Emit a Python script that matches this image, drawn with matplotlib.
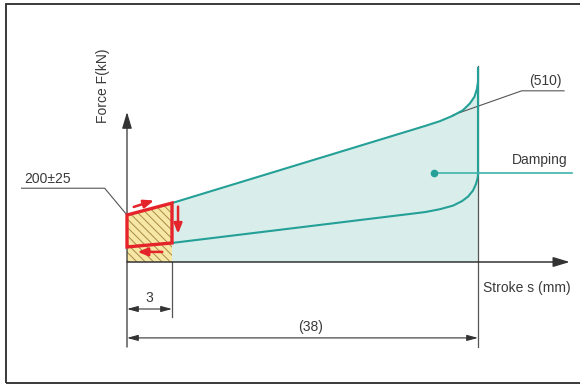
import numpy as np
import matplotlib
matplotlib.use("Agg")
import matplotlib.pyplot as plt
from matplotlib.patches import Rectangle

# ---------------- data (stroke s in mm, force F in kN) ----------------
stroke_marks = [0, 3, 38]            # characteristic strokes
force_marks = [0, 200, 510]          # characteristic forces
preload_label = "200±25"
end_force_label = "(510)"
dim_short_label = "3"
dim_total_label = "(38)"
damping_label = "Damping"
x_label = "Stroke s (mm)"
y_label = "Force F(kN)"

# loading curve (upper) and unloading curve (lower)
upper_s = [3, 31.94, 33.65, 35.14, 36.28, 37.08, 37.60, 37.88, 38.0, 38.0]
upper_F = [237, 476, 491, 508, 525, 546, 567, 591, 612, 656]
lower_s = [3, 31.94, 33.65, 35.14, 36.17, 36.86, 37.43, 37.77, 37.94, 38.0]
lower_F = [81, 209, 218, 229, 243, 257, 276, 296, 313, 324]

# preload (initial stiffness) hysteresis box
box_s = [0, 3, 3, 0]
box_F = [200, 237, 81, 64]

# ---------------- schematic (non-proportional) drawing scale ----------------
x_draw = [0, 45, 351]     # drawing distance for stroke_marks
y_draw = [0, 47, 147]     # drawing distance for force_marks


def piecewise(xk, yk):
    xk = np.asarray(xk, float)
    yk = np.asarray(yk, float)
    s_lo = (yk[1] - yk[0]) / (xk[1] - xk[0])
    s_hi = (yk[-1] - yk[-2]) / (xk[-1] - xk[-2])

    def f(v):
        v = np.asarray(v, float)
        out = np.interp(v, xk, yk)
        out = np.where(v < xk[0], yk[0] + (v - xk[0]) * s_lo, out)
        out = np.where(v > xk[-1], yk[-1] + (v - xk[-1]) * s_hi, out)
        return out
    return f


fx, fx_inv = piecewise(stroke_marks, x_draw), piecewise(x_draw, stroke_marks)
fy, fy_inv = piecewise(force_marks, y_draw), piecewise(y_draw, force_marks)

plt.rcParams["font.family"] = ["Liberation Sans", "DejaVu Sans"]
plt.rcParams["hatch.linewidth"] = 0.7

TEAL = "#24a097"
TEAL_LIGHT = "#3db3aa"
FILL = "#d9eeeb"
RED = "#e5232b"
DARK = "#333333"
GRAY = "#555555"
TXT = "#3a3a3a"

fig = plt.figure(figsize=(5.8, 3.84), dpi=100)
ax = fig.add_axes([0, 0, 1, 1])
ax.set_xscale("function", functions=(fx, fx_inv))
ax.set_yscale("function", functions=(fy, fy_inv))
ax.set_xlim(float(fx_inv(-127)), float(fx_inv(453)))
ax.set_ylim(float(fy_inv(-122)), float(fy_inv(262)))
ax.set_axis_off()

# frame
fig.patches.append(Rectangle((6 / 580, 1.5 / 384), 1.0, 378.5 / 384,
                             transform=fig.transFigure, fill=False,
                             edgecolor="#2a2a2a", lw=1.3))

s0, s3, s38 = stroke_marks
F0, Fpre, Fend = force_marks

# damping area
ax.fill(np.r_[s3, upper_s, s38], np.r_[F0, upper_F, F0],
        facecolor=FILL, edgecolor="none", zorder=1)

# hatched preload zone
ax.fill([s0, box_s[0], box_s[1], s3], [F0, box_F[0], box_F[1], F0],
        facecolor="#f6e7a6", edgecolor="#a88a45", hatch="\\\\\\\\",
        lw=0, zorder=1.5)

# extension / axis lines
ax.plot([s38, s38], [-362, 662], color=GRAY, lw=0.9, zorder=2)
ax.plot([s3, s3], [F0, -234], color=GRAY, lw=0.9, zorder=2)
ax.annotate("", xy=(s0, 519), xytext=(s0, -362),
            arrowprops=dict(arrowstyle="-|>,head_length=1.0,head_width=0.3",
                            mutation_scale=10, color=DARK, lw=0.9,
                            shrinkA=0, shrinkB=0), zorder=2.5)
ax.annotate("", xy=(48.5, F0), xytext=(s0, F0),
            arrowprops=dict(arrowstyle="-|>,head_length=1.0,head_width=0.3",
                            mutation_scale=10, color=DARK, lw=1.1,
                            shrinkA=0, shrinkB=0), zorder=2.5)

# curves outline
ax.plot(np.r_[upper_s, lower_s[::-1]], np.r_[upper_F, lower_F[::-1]],
        color=TEAL, lw=1.5, zorder=3, solid_joinstyle="round")

# red preload box
ax.fill(box_s, box_F, facecolor="none", edgecolor=RED, lw=2.4,
        joinstyle="miter", zorder=4)
red_arrow = dict(arrowstyle="-|>,head_length=1.0,head_width=0.4",
                 mutation_scale=6, color=RED, lw=1.8, shrinkA=0, shrinkB=0)
ax.annotate("", xy=(1.8, 245), xytext=(0.45, 225), arrowprops=red_arrow, zorder=5)
ax.annotate("", xy=(3.69, 120), xytext=(3.69, 226), arrowprops=red_arrow, zorder=5)
ax.annotate("", xy=(0.7, 43), xytext=(2.35, 43), arrowprops=red_arrow, zorder=5)

# dimension lines
dim_arrow = dict(arrowstyle="<|-|>,head_length=1.1,head_width=0.3",
                 mutation_scale=6, color=DARK, lw=0.8, shrinkA=0, shrinkB=0)
ax.annotate("", xy=(s0, -200), xytext=(s3, -200), arrowprops=dim_arrow)
ax.annotate("", xy=(s0, -323), xytext=(s38, -323), arrowprops=dim_arrow)
ax.text((s0 + s3) / 2, -153, dim_short_label, ha="center", va="center",
        fontsize=10, color=TXT)
ax.text(18.8, -277, dim_total_label, ha="center", va="center",
        fontsize=10, color=TXT)

# leaders and labels
ax.plot([s0, -1.49, -7.03], [Fpre, 283, 283], color=GRAY, lw=0.8, zorder=2)
ax.text(-6.87, 290, preload_label, ha="left", va="bottom", fontsize=10, color=TXT)

ax.plot([35.14, 43.0, 47.84], [Fend, 585, 585], color=GRAY, lw=0.8, zorder=2.8)
ax.text(45.66, 594, end_force_label, ha="center", va="bottom", fontsize=10, color=TXT)

ax.plot([32.92, 48.7], [331, 331], color=TEAL_LIGHT, lw=1.2, zorder=3.5)
ax.plot([32.92], [331], "o", color=TEAL, ms=4.5, zorder=3.6)
ax.text(45.09, 349, damping_label, ha="center", va="bottom", fontsize=10, color=TXT)

ax.text(43.6, -111, x_label, ha="center", va="center", fontsize=10, color=TXT)
ax.text(-1.6, 600, y_label, ha="center", va="center", rotation=90,
        fontsize=10, color=TXT)

fig.savefig("out.png", dpi=100)
